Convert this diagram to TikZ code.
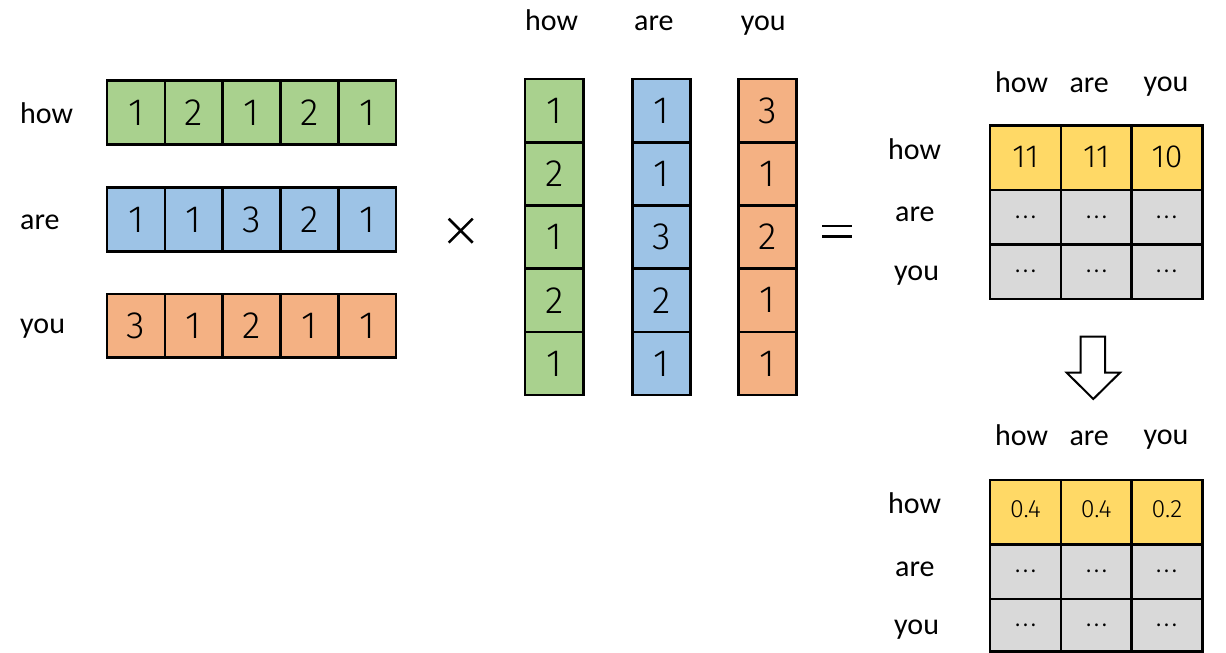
\documentclass[tikz,border=0pt]{standalone}
\usepackage{fontspec}
\usetikzlibrary{calc}
\setmainfont{Carlito}
\newfontfamily\digfont{Fira Sans}[UprightFont=* Light]
\newfontfamily\cjkfont{Noto Sans CJK SC}
\definecolor{cgreen}{HTML}{A9D18E}
\definecolor{cblue}{HTML}{9DC3E6}
\definecolor{corange}{HTML}{F4B183}
\definecolor{cyellow}{HTML}{FFD966}
\definecolor{cgray}{HTML}{D9D9D9}
\tikzset{
  lbl/.style={anchor=base west, inner sep=0pt, font=\fontsize{30}{36}\selectfont},
  cell/.style={draw=black, line width=2.6pt, inner sep=0pt, font=\digfont\fontsize{38}{44}\selectfont},
  hcell/.style={cell, minimum width=57.8pt, minimum height=63.5pt},
  vcell/.style={cell, minimum width=58.3pt, minimum height=63.2pt},
  mcell/.style={cell, minimum width=70.8pt, font=\digfont\fontsize{32}{36}\selectfont},
  pcell/.style={mcell, font=\digfont\fontsize{25}{30}\selectfont},
  dcell/.style={mcell, fill=cgray, font=\cjkfont\fontsize{21}{24}\selectfont},
  sym/.style={line width=2.6pt},
  blockarrow/.style={draw=black, line width=2pt, fill=white, line join=miter}
}
\begin{document}
\begin{tikzpicture}[x=1pt,y=-1pt]
\useasboundingbox (0,0) rectangle (1226,653);
% left row labels
\node[lbl] (lhow) at (20,123) {how};
\node[lbl] (lare) at (20,229.5) {are};
\node[lbl] (lyou) at (20,333) {you};
% left rows
\foreach \v [count=\i from 0] in {1,2,1,2,1}
  \node[hcell, fill=cgreen] (ga\i) at (135.9+57.8*\i,112.5) {\v};
\foreach \v [count=\i from 0] in {1,1,3,2,1}
  \node[hcell, fill=cblue] (ba\i) at (135.9+57.8*\i,219.5) {\v};
\foreach \v [count=\i from 0] in {3,1,2,1,1}
  \node[hcell, fill=corange] (oa\i) at (135.9+57.8*\i,325.7) {\v};
% times
\coordinate (tc) at (460.7,230.7);
\draw[sym] ($(tc)+(-12,-12)$) -- ($(tc)+(12,12)$);
\draw[sym] ($(tc)+(-12,12)$) -- ($(tc)+(12,-12)$);
% middle headers
\node[lbl] (mhow) at (525,30) {how};
\node[lbl] (mare) at (634,30) {are};
\node[lbl] (myou) at (740.7,30) {you};
% middle columns
\foreach \v [count=\i from 0] in {1,2,1,2,1}
  \node[vcell, fill=cgreen] (gb\i) at (554.2,110.6+63.2*\i) {\v};
\foreach \v [count=\i from 0] in {1,1,3,2,1}
  \node[vcell, fill=cblue] (bb\i) at (661.5,110.6+63.2*\i) {\v};
\foreach \v [count=\i from 0] in {3,1,2,1,1}
  \node[vcell, fill=corange] (ob\i) at (767.5,110.6+63.2*\i) {\v};
% equals
\coordinate (ec) at (837,231);
\draw[sym] ($(ec)+(-15,-5.2)$) -- ($(ec)+(15,-5.2)$);
\draw[sym] ($(ec)+(-15,5.2)$) -- ($(ec)+(15,5.2)$);
% top right matrix
\node[lbl] (thow) at (995,92.3) {how};
\node[lbl] (tare) at (1069.3,92.3) {are};
\node[lbl] (tyou) at (1143.3,91.5) {you};
\node[lbl] (trhow) at (888,159) {how};
\node[lbl] (trare) at (895,221.7) {are};
\node[lbl] (tryou) at (894,280.5) {you};
\node[mcell, fill=cyellow, minimum height=64.3pt] (t00) at (1025.4,157.9) {\raisebox{3pt}{11}};
\node[mcell, fill=cyellow, minimum height=64.3pt] (t01) at (1096.2,157.9) {\raisebox{3pt}{11}};
\node[mcell, fill=cyellow, minimum height=64.3pt] (t02) at (1167,157.9) {\raisebox{3pt}{10}};
\foreach \i in {0,1,2} {
  \node[dcell, minimum height=54.3pt] (t1\i) at (1025.4+70.8*\i,217.2) {…};
  \node[dcell, minimum height=54.7pt] (t2\i) at (1025.4+70.8*\i,271.7) {…};
}
% block arrow
\draw[blockarrow] (1080.7,336.7) -- (1105,336.7) -- (1105,372.7) -- (1120,372.7)
  -- (1093.3,399) -- (1066.7,372.7) -- (1080.7,372.7) -- cycle;
% bottom right matrix
\node[lbl] (bhow) at (995,445.7) {how};
\node[lbl] (bare) at (1069.3,445.7) {are};
\node[lbl] (byou) at (1143.3,444.5) {you};
\node[lbl] (brhow) at (888,513.3) {how};
\node[lbl] (brare) at (895,576) {are};
\node[lbl] (bryou) at (894,634) {you};
\node[pcell, fill=cyellow, minimum height=64.3pt] (p00) at (1025.4,512.2) {\raisebox{7pt}{0.4}};
\node[pcell, fill=cyellow, minimum height=64.3pt] (p01) at (1096.2,512.2) {\raisebox{7pt}{0.4}};
\node[pcell, fill=cyellow, minimum height=64.3pt] (p02) at (1167,512.2) {\raisebox{7pt}{0.2}};
\foreach \i in {0,1,2} {
  \node[dcell, minimum height=54.7pt] (p1\i) at (1025.4+70.8*\i,571.7) {…};
  \node[dcell, minimum height=52.7pt] (p2\i) at (1025.4+70.8*\i,625.4) {…};
}
\end{tikzpicture}
\end{document}
